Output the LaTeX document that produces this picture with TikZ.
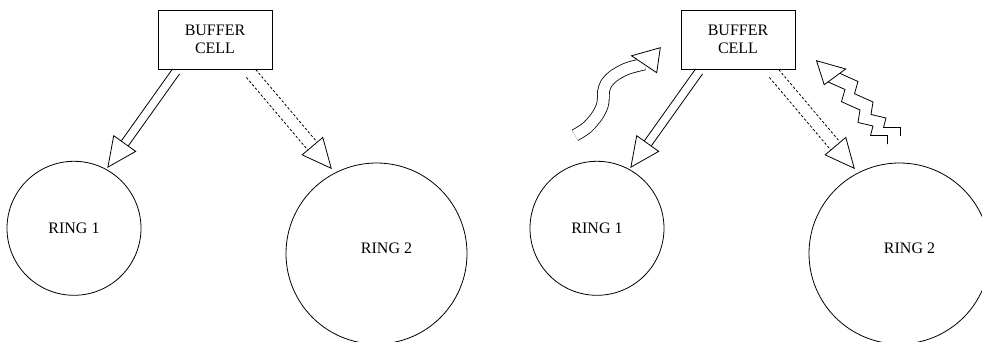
\documentclass[tikz,border=0pt]{standalone}
\usepackage{fontspec}
\setmainfont{Liberation Serif}
\usetikzlibrary{calc}

\tikzset{
  lbl/.style={font=\fontsize{16}{17.5}\selectfont},
  cellbox/.style={draw, rectangle, minimum width=114pt, minimum height=59pt,
    inner sep=0pt, align=center, lbl},
  ringnode/.style={draw, circle, inner sep=0pt, lbl},
  headfill/.style={draw, solid, fill=white, line width=0.8pt, line join=miter},
  solidline/.style={line width=0.8pt},
  dashline/.style={line width=0.8pt, dash pattern=on 2.5pt off 2pt},
  wavepair/.style={double, double distance=11pt, line width=0.8pt},
  zigline/.style={line width=0.8pt, line join=miter},
}

% twin-line arrow: #1 line style, #2 start, #3 tip, #4 start inset, #5 half gap
\newcommand\pairarrow[5]{%
  \draw[#1] ($(#2)!#4!(#3)!#5!90:(#3)$) -- ($(#3)!29pt!(#2)!#5!-90:(#2)$);
  \draw[#1] ($(#2)!#4!(#3)!#5!-90:(#3)$) -- ($(#3)!29pt!(#2)!#5!90:(#2)$);
  \draw[headfill] (#3) -- ($(#3)!29pt!(#2)!13.5pt!90:(#2)$)
    -- ($(#3)!29pt!(#2)!13.5pt!-90:(#2)$) -- cycle;
}

% one buffer cell feeding two rings
\newcommand\ringpanel{%
  \node[cellbox] (buf) at (215,39.5) {BUFFER\\CELL};
  \node[ringnode, minimum size=134pt] (r1) at (74,228.3) {RING 1};
  \node[ringnode, minimum size=181pt,
        label={[lbl, xshift=10pt, yshift=5.5pt]center:RING 2}] (r2) at (376.5,253.5) {};
  \coordinate (s1) at ([xshift=19.9pt]buf.south west);
  \coordinate (s2) at ([xshift=90pt]buf.south west);
  \coordinate (t1) at ($(r1.61)!-2.5pt!(r1.center)$);
  \coordinate (t2) at ($(r2.118.5)!-5.6pt!(r2.center)$);
  \pairarrow{solidline}{s1}{t1}{2.5pt}{4.3pt}
  \pairarrow{dashline}{s2}{t2}{5.4pt}{6.1pt}
}

\begin{document}
\begin{tikzpicture}[x=1pt, y=-1pt, line width=0.8pt]
  \useasboundingbox (0,0) rectangle (982,342);
  \clip (0,0) rectangle (982,342);

  \begin{scope}[name prefix=L-]
    \ringpanel
  \end{scope}
  \begin{scope}[xshift=523pt, name prefix=R-]
    \ringpanel
  \end{scope}

  % wavy double arrow rising towards the cell
  \coordinate (waveTip) at (660.3,47.7);
  \draw[wavepair] plot[smooth, tension=0.55] coordinates {(575,135.3) (587,127.5)
    (597,116) (602.3,105.5) (603.3,98) (603.5,92) (606,84) (613.5,76) (626,69)
    (638,65.5) (644.5,64)};
  \draw[headfill] (waveTip) -- (631.5,55.8) -- (656.7,72.7) -- cycle;

  % zigzag double arrow leaving ring 2
  \coordinate (zigTip) at (816.5,60.7);
  \foreach \dx/\dy in {0/0, 13/-8}
    \draw[zigline, shift={(\dx,\dy)}] (826,81) -- (845,89.5) -- (841.5,101.7)
      -- (860,110) -- (858,122.5) -- (873,126) -- (870.5,135.5) -- (887.5,135.5)
      -- (887.5,144);
  \draw[headfill] (zigTip) -- (845.7,69) -- (824.2,84.7) -- cycle;
\end{tikzpicture}
\end{document}
